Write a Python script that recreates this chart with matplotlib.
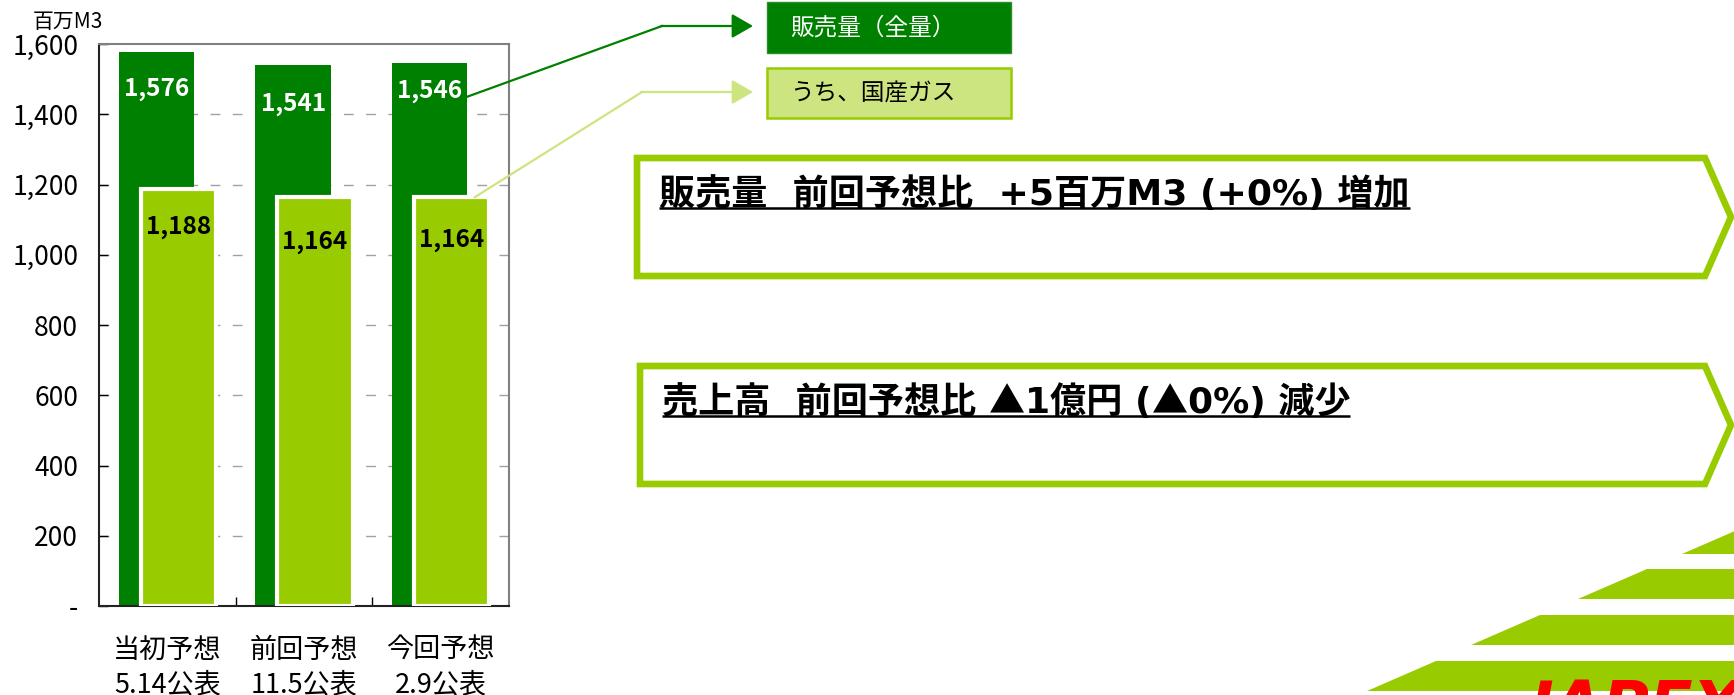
import numpy as np
import matplotlib
matplotlib.use("Agg")
import matplotlib.pyplot as plt
from matplotlib.patches import Rectangle, Polygon, FancyArrowPatch

plt.rcParams["font.family"] = ["Noto Sans CJK JP", "DejaVu Sans"]

# data (百万M3)
categories = ["当初予想\n5.14公表", "前回予想\n11.5公表", "今回予想\n2.9公表"]
total_sales = [1576, 1541, 1546]      # 販売量（全量）
domestic_gas = [1188, 1164, 1164]     # うち、国産ガス
yticks = [0, 200, 400, 600, 800, 1000, 1200, 1400, 1600]
legend_labels = ["販売量（全量）", "うち、国産ガス"]
notes = ["販売量  前回予想比  +5百万M3 (+0%) 増加",
         "売上高  前回予想比 ▲1億円 (▲0%) 減少"]

DARK = "#008000"
LIGHT = "#99cc00"
PALE = "#cce580"
W, H = 1734, 695

fig = plt.figure(figsize=(W / 100, H / 100), dpi=100)
ax = fig.add_axes([99 / W, (H - 606) / H, 410 / W, 562 / H])

x = np.arange(len(categories))
bw, off = 0.55, 0.08
ax.bar(x - off, total_sales, bw, color=DARK, zorder=2)
ax.bar(x + off, domestic_gas, bw, color=LIGHT, edgecolor="white", linewidth=3, zorder=3)

# value labels inside bars
drop_dark = [104, 111, 79]
drop_light = [110, 129, 123]
for i in range(len(x)):
    ax.text(x[i] - off, total_sales[i] - drop_dark[i], f"{total_sales[i]:,}", color="white",
            ha="center", va="center", fontsize=17.5, fontweight="bold", zorder=5)
    ax.text(x[i] + off, domestic_gas[i] - drop_light[i], f"{domestic_gas[i]:,}", color="black",
            ha="center", va="center", fontsize=17.5, fontweight="bold", zorder=5)

ax.set_xlim(-0.5, 2.5)
ax.set_ylim(0, 1600)
ax.set_yticks(yticks)
ax.set_yticklabels(["-" if v == 0 else f"{v:,}" for v in yticks])
ax.set_xticks(x)
ax.set_xticklabels(categories, linespacing=1.35)
ax.set_xticks([0.5, 1.5], minor=True)
ax.tick_params(axis="y", direction="in", length=6.5, width=1, labelsize=19, pad=15)
ax.tick_params(axis="x", which="major", length=0, labelsize=19.5, pad=22)
ax.tick_params(axis="x", which="minor", direction="in", length=6.5, width=1)
for v in yticks[1:-1]:
    ax.axhline(v, color="#a0a0a0", lw=1, ls=(0, (7, 9)), zorder=1)
for s in ["left", "bottom"]:
    ax.spines[s].set_color("#222222")
    ax.spines[s].set_linewidth(1.5)
for s in ["top", "right"]:
    ax.spines[s].set_color("#808080")
    ax.spines[s].set_linewidth(1.5)

fig.text(33 / W, 1 - 11 / H, "百万M3", fontsize=15, ha="left", va="top")

# overlay in pixel coordinates
ov = fig.add_axes([0, 0, 1, 1], zorder=10)
ov.set_xlim(0, W)
ov.set_ylim(H, 0)
ov.axis("off")
ov.patch.set_alpha(0)


def to_px(px, py):
    return ov.transData.inverted().transform(ax.transData.transform((px, py)))


# legend boxes
ov.add_patch(Rectangle((767, 2), 244, 51, facecolor=DARK, edgecolor="#2a8f2a", lw=1))
ov.add_patch(Rectangle((767, 68), 244, 50, facecolor=PALE, edgecolor=LIGHT, lw=1.8))
ov.text(790, 28, legend_labels[0], color="white", fontsize=17, va="center")
ov.text(790, 94, legend_labels[1], color="black", fontsize=17, va="center")

# leader lines with arrows
p0 = to_px(2 - off + bw / 2, 1450)
ov.plot([p0[0], 662], [p0[1], 26], color=DARK, lw=1.6)
ov.add_patch(FancyArrowPatch((661, 26), (753, 26), arrowstyle="-|>,head_length=13,head_width=7.5",
                             color=DARK, lw=1.6, shrinkA=0, shrinkB=0))
p1 = to_px(2 + off + 0.17, domestic_gas[2])
ov.plot([p1[0], 642], [p1[1], 92], color=PALE, lw=1.6)
ov.add_patch(FancyArrowPatch((641, 92), (753, 92), arrowstyle="-|>,head_length=13,head_width=7.5",
                             color=PALE, lw=1.6, shrinkA=0, shrinkB=0))


def draw_note(x0, y0, s):
    """Bold text run by run: latin in DejaVu (wide), ▲ in the CJK face; returns right edge."""
    renderer = fig.canvas.get_renderer()
    parts = s.replace("▲", "\0▲\0").split("\0")
    cur = x0
    for p in parts:
        if not p:
            continue
        fam = ["Noto Sans CJK JP"] if p == "▲" else ["DejaVu Sans", "Noto Sans CJK JP"]
        t = ov.text(cur, y0, p, fontsize=26, fontweight="bold", va="baseline", family=fam)
        bb = t.get_window_extent(renderer).transformed(ov.transData.inverted())
        # keep trailing spaces in the advance
        cur = bb.x1 + (0 if not p.endswith(" ") else 0)
    return cur


# arrow-shaped note boxes
for (left, top, bot), note in zip([(637, 158, 276), (640, 366, 484)], notes):
    mid = (top + bot) / 2
    ov.add_patch(Polygon([(left, top), (1705, top), (1731, mid), (1705, bot), (left, bot)],
                         closed=True, facecolor="white", edgecolor=LIGHT, lw=4.8, joinstyle="miter"))
    fig.canvas.draw()
    right = draw_note(left + 22, top + 47, note)
    ov.plot([left + 22, right], [top + 50, top + 50], color="black", lw=1.8, solid_capstyle="butt")

# logo stripes (bottom-right)
for top, bl in [(524, 1682), (569, 1578), (615, 1471), (661, 1367)]:
    ov.add_patch(Polygon([(bl, top + 30), (bl + 69, top), (1800, top), (1800, top + 30)],
                         closed=True, facecolor=LIGHT, edgecolor="none"))
ov.text(1530, 678, "JAPEX", color="#ff0000", fontsize=46, fontweight="bold",
        fontstyle="italic", family="DejaVu Sans", va="top", ha="left")

fig.savefig("out.png", dpi=100)
